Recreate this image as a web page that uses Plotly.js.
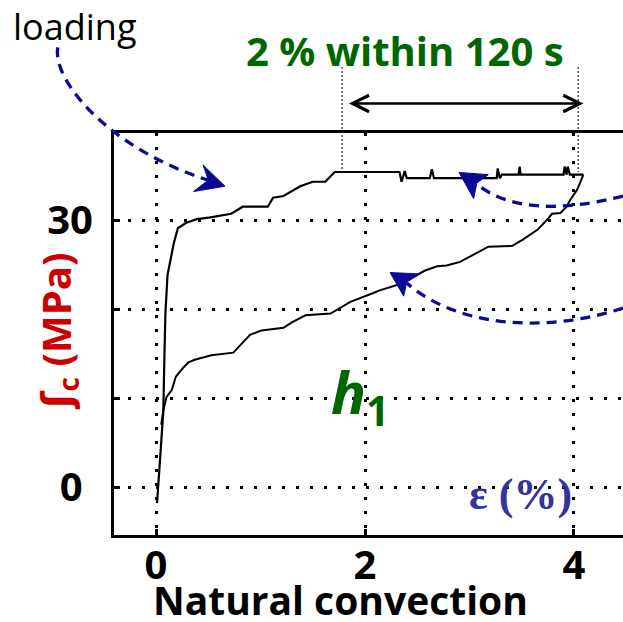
<!DOCTYPE html>
<html>
<head>
<meta charset="utf-8">
<script src="https://cdn.plot.ly/plotly-3.0.1.min.js"></script>
<style>html,body{margin:0;padding:0;background:#fff;}#chart{width:623px;height:622px;}</style>
</head>
<body>
<div id="chart"></div>
<script>
// ---- data (strain %, stress MPa) ----
const loadStrain = [0.01,0.03,0.05,0.07,0.08,0.09,0.11,0.14,0.17,0.21,0.29,0.39,0.52,0.72,0.83,1.07,1.12,1.22,1.38,1.50,1.62,1.71,2.33,2.35,2.38,2.40,2.62,2.64,2.66,3.26,3.27,3.29,3.31,3.47,3.48,3.49,3.90,3.91,3.93,3.94,3.96,4.09];
const loadStress = [-1.8,1.6,6.0,8.5,14.5,19.5,23.8,25.7,27.4,29.1,29.7,30.1,30.3,30.7,31.5,31.5,32.5,32.7,33.8,34.3,34.3,35.4,35.4,34.3,35.5,34.7,34.7,35.7,34.7,34.7,35.8,34.7,35.1,35.1,36.0,35.1,35.1,36.0,35.1,36.0,35.1,35.1];
const unloadStrain = [4.09,4.06,4.03,3.96,3.93,3.87,3.79,3.74,3.65,3.51,3.41,3.18,3.07,2.91,2.78,2.69,2.57,2.36,2.14,2.08,1.86,1.67,1.43,1.30,1.22,1.01,0.90,0.74,0.53,0.37,0.31,0.26,0.19,0.15,0.10,0.07,0.05];
const unloadStress = [35.1,34.2,33.4,32.2,31.5,30.8,30.7,30.0,28.9,27.8,27.1,27.0,26.3,25.3,24.9,24.8,24.3,22.9,22.1,21.8,20.8,19.5,19.3,18.5,17.9,17.6,17.1,15.1,14.8,14.3,14.0,13.4,12.4,10.9,10.1,8.6,7.0];

const xTickVals = [0, 2, 4];
const xTickText = ['0', '2', '4'];
const yTickVals = [0, 10, 20, 30];
const yTickText = ['0\u00a0', '', '', '30'];

// ---- axis ranges ----
const XR = [-0.402, 4.469];
const YR = [-5.39, 39.78];
const px = x => (x - XR[0]) / (XR[1] - XR[0]);
const py = y => (y - YR[0]) / (YR[1] - YR[0]);
const P = (p) => px(p[0]).toFixed(4) + ',' + py(p[1]).toFixed(4);

// ---- decorative curved arrows (in data units) ----
const curvedArrows = [
  {path: [[-0.94,49.4],[-1.00,45.7],[-0.44,37.9],[0.52,34.4]], head: [[0.66,33.8],[0.45,36.2],[0.50,34.5],[0.36,33.2]]},
  {path: [[4.47,32.70],[3.87,30.90],[3.39,31.12],[3.08,33.93]], head: [[2.90,35.35],[3.18,35.10],[3.07,34.16],[3.04,32.40]]},
  {path: [[4.47,20.11],[3.67,17.08],[2.86,18.20],[2.40,22.92]], head: [[2.24,24.10],[2.52,23.95],[2.40,23.03],[2.37,21.45]]}
];
const arrowBlue = '#0a0a96';
const shapes = [];
curvedArrows.forEach(a => {
  const p = a.path;
  shapes.push({type:'path', xref:'paper', yref:'paper', layer:'above',
    path: 'M' + P(p[0]) + ' C' + P(p[1]) + ' ' + P(p[2]) + ' ' + P(p[3]),
    line:{color:arrowBlue, width:3.3, dash:'10px,7px'}});
  const h = a.head;
  shapes.push({type:'path', xref:'paper', yref:'paper', layer:'above',
    path: 'M' + P(h[0]) + ' L' + P(h[1]) + ' L' + P(h[2]) + ' L' + P(h[3]) + ' Z',
    fillcolor:arrowBlue, line:{color:arrowBlue, width:1}});
});
// thin dotted markers of the 120 s window
[1.78, 4.04].forEach(xv => {
  shapes.push({type:'line', xref:'paper', yref:'paper', layer:'above',
    x0:px(xv), x1:px(xv), y0:py(47.2), y1:py(35.4),
    line:{color:'#222', width:1.2, dash:'2px,2px'}});
});

const traces = [
  {x: loadStrain, y: loadStress, mode:'lines', line:{color:'#000', width:2.2}, hoverinfo:'skip'},
  {x: unloadStrain, y: unloadStress, mode:'lines', line:{color:'#000', width:2}, hoverinfo:'skip'}
];

const FONT = '"Open Sans", "DejaVu Sans", sans-serif';
const axisCommon = {
  showline:true, linecolor:'#000', linewidth:3,
  showgrid:true, gridcolor:'#000', gridwidth:3, griddash:'3px,11px',
  zeroline:false, ticks:'inside', ticklen:6, tickwidth:3, tickcolor:'#000',
  tickfont:{family:FONT, size:40, color:'#000', weight:700},
  tickmode:'array', fixedrange:true
};

const layout = {
  width:623, height:622,
  margin:{l:114, r:0, t:133, b:87, pad:0},
  paper_bgcolor:'#fff', plot_bgcolor:'#fff',
  showlegend:false, hovermode:false,
  xaxis: Object.assign({}, axisCommon, {range:XR, tickvals:xTickVals, ticktext:xTickText, mirror:true, ticklabelstandoff:-7}),
  yaxis: Object.assign({}, axisCommon, {range:YR, tickvals:yTickVals, ticktext:yTickText, mirror:false, ticklabelstandoff:10}),
  shapes: shapes,
  annotations: [
    {text:'loading', xref:'paper', yref:'paper', x:(75-114)/509, y:(535-27)/402, showarrow:false,
     font:{family:FONT, size:36, color:'#000'}, xanchor:'center', yanchor:'middle'},
    {text:'2 % within 120 s', xref:'paper', yref:'paper', x:(405-114)/509, y:(535-51)/402, showarrow:false,
     font:{family:FONT, size:40, color:'#006600', weight:700}, xanchor:'center', yanchor:'middle'},
    {text:'', xref:'paper', yref:'paper', x:px(4.09), y:py(43.1), ax:-236, ay:0, axref:'pixel', ayref:'pixel',
     showarrow:true, arrowside:'end+start', arrowhead:5, startarrowhead:5, arrowsize:1.3, startarrowsize:1.3,
     arrowwidth:2.5, arrowcolor:'#000'},
    {text:'<i>h</i><sub>1</sub>', xref:'paper', yref:'paper', x:(360-114)/509, y:(535-395)/402, showarrow:false,
     font:{family:FONT, size:58, color:'#006600', weight:700}, xanchor:'center', yanchor:'middle'},
    {text:'ε (%)', xref:'paper', yref:'paper', x:(520-114)/509, y:(535-494)/402, showarrow:false,
     font:{family:'"Liberation Serif", "DejaVu Serif", serif', size:44, color:'#333399', weight:700}, xanchor:'center', yanchor:'middle'},
    {text:'Natural convection', xref:'paper', yref:'paper', x:(340-114)/509, y:(535-599)/402, showarrow:false,
     font:{family:FONT, size:39, color:'#000', weight:700}, xanchor:'center', yanchor:'middle'},
    {text:'ʃ<sub>c</sub> (MPa)', xref:'paper', yref:'paper', x:(57-114)/509, y:(535-331)/402, showarrow:false, textangle:-90,
     font:{family:FONT, size:40, color:'#cc0000', weight:700}, xanchor:'center', yanchor:'middle'}
  ]
};

Plotly.newPlot('chart', traces, layout, {staticPlot:true, displayModeBar:false});
</script>
</body>
</html>
